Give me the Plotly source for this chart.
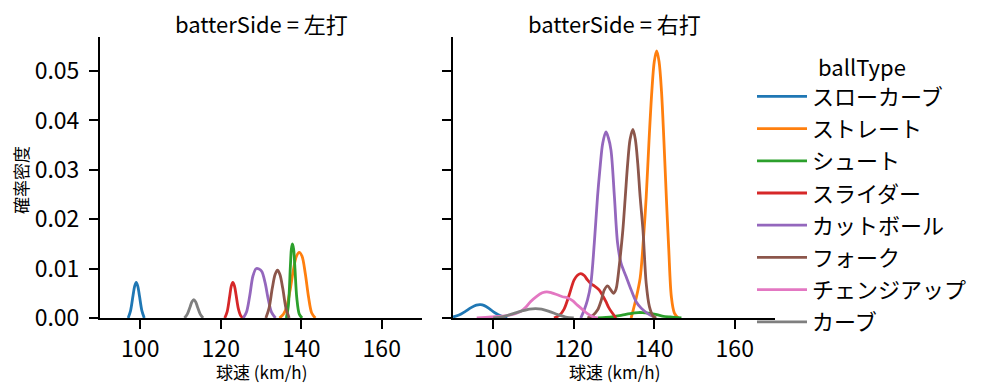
import plotly.graph_objects as go

# ---------------- data ----------------
ball_types = ["スローカーブ", "ストレート", "シュート", "スライダー",
              "カットボール", "フォーク", "チェンジアップ", "カーブ"]
colors = ["#1f77b4", "#ff7f0e", "#2ca02c", "#d62728",
          "#9467bd", "#8c564b", "#e377c2", "#7f7f7f"]
panels = ["左打", "右打"]

# 左打 (left-handed batters): speed (km/h) and density points of each KDE curve
left_slowcurve_x = [97.0, 97.6, 98.2, 98.6, 99.0, 99.4, 99.8, 100.4, 101.0]
left_slowcurve_y = [0, 0.0015, 0.0045, 0.0064, 0.0072, 0.0064, 0.0045, 0.0015, 0]
left_straight_x = [134.6, 135.6, 136.4, 137.2, 138.0, 138.8, 139.5, 140.2, 141.0, 141.8, 142.6, 143.5]
left_straight_y = [0, 0.0008, 0.0023, 0.0055, 0.0095, 0.0125, 0.0133, 0.0125, 0.0090, 0.0043, 0.0010, 0]
left_shoot_x = [136.3, 136.8, 137.3, 137.55, 137.8, 138.1, 138.4, 138.9, 139.5, 140.2]
left_shoot_y = [0, 0.0025, 0.0105, 0.0140, 0.0150, 0.0140, 0.0105, 0.0040, 0.0008, 0]
left_slider_x = [121.0, 121.6, 122.2, 122.6, 123.0, 123.4, 123.8, 124.4, 125.0, 125.6]
left_slider_y = [0, 0.0013, 0.0043, 0.0064, 0.0072, 0.0065, 0.0047, 0.0018, 0.0004, 0]
left_cutball_x = [125.6, 126.4, 127.2, 128.0, 128.8, 129.5, 130.2, 131.0, 131.8, 132.6, 133.6]
left_cutball_y = [0, 0.0012, 0.0045, 0.0085, 0.0100, 0.0099, 0.0094, 0.0072, 0.0038, 0.0012, 0]
left_fork_x = [131.2, 132.0, 132.8, 133.5, 134.1, 134.7, 135.4, 136.2, 137.0]
left_fork_y = [0, 0.0020, 0.0060, 0.0088, 0.0097, 0.0088, 0.0060, 0.0020, 0]
left_curve_x = [111.0, 111.7, 112.4, 112.85, 113.3, 113.75, 114.2, 114.9, 115.6]
left_curve_y = [0, 0.0008, 0.0023, 0.0033, 0.0037, 0.0033, 0.0023, 0.0008, 0]

# 右打 (right-handed batters)
right_slowcurve_x = [90.0, 91.5, 93.0, 94.5, 95.8, 96.8, 97.8, 99.0, 100.5, 102.0, 103.5]
right_slowcurve_y = [0.0002, 0.0006, 0.0013, 0.0021, 0.0026, 0.0027, 0.0025, 0.0019, 0.0010, 0.0004, 0.0001]
right_straight_x = [134.25, 135.5, 136.5, 137.3, 138.0, 138.7, 139.4, 140.0, 140.6, 141.2,
                    141.8, 142.4, 143.0, 143.6, 144.25, 145.0, 146.0]
right_straight_y = [0, 0.0040, 0.0081, 0.0158, 0.0245, 0.0359, 0.0459, 0.0519, 0.0541, 0.0519,
                    0.0459, 0.0359, 0.0245, 0.0140, 0.0043, 0.0010, 0]
right_shoot_x = [126.0, 128.0, 130.0, 132.0, 134.0, 136.0, 137.0, 138.5, 140.0, 142.0, 144.0, 146.75]
right_shoot_y = [0, 0.0001, 0.0003, 0.0006, 0.0009, 0.0011, 0.0011, 0.0010, 0.0008, 0.0004, 0.0002, 0]
right_slider_x = [115.1, 116.5, 117.6, 118.8, 120.1, 121.0, 121.75, 122.6, 123.4, 124.3,
                  125.1, 126.3, 127.2, 128.0, 128.7, 129.4, 130.5]
right_slider_y = [0, 0.0006, 0.0018, 0.0045, 0.0077, 0.0087, 0.0090, 0.0086, 0.0077, 0.0069,
                  0.0065, 0.0057, 0.0045, 0.0033, 0.0021, 0.0012, 0]
right_cutball_x = [121.75, 122.6, 123.4, 124.25, 125.1, 125.9, 126.6, 127.2, 128.0, 128.6,
                   129.25, 130.1, 130.9, 131.75, 133.0, 134.25, 135.5, 136.75, 138.4, 140.0]
right_cutball_y = [0, 0.0016, 0.0036, 0.0070, 0.0151, 0.0245, 0.0310, 0.0354, 0.0377, 0.0365,
                   0.0340, 0.0246, 0.0151, 0.0111, 0.0084, 0.0057, 0.0033, 0.0020, 0.0009, 0.0002]
right_fork_x = [123.4, 124.7, 125.9, 126.8, 127.6, 128.4, 129.2, 129.9, 130.5, 130.9, 131.5, 132.2,
                132.8, 133.4, 134.0, 134.7, 135.3, 135.9, 136.5, 137.2, 138.0, 138.8, 139.7, 140.5]
right_fork_y = [0, 0.0005, 0.0016, 0.0035, 0.0057, 0.0065, 0.0057, 0.0050, 0.0058, 0.0077, 0.0120, 0.0178,
                0.0245, 0.0313, 0.0362, 0.0382, 0.0362, 0.0313, 0.0245, 0.0178, 0.0070, 0.0023, 0.0004, 0]
right_changeup_x = [95.9, 99.5, 103.4, 105.5, 106.75, 108.0, 109.25, 110.8, 112.2, 113.3, 114.5,
                    115.9, 117.2, 118.4, 119.7, 120.9, 122.2, 123.4, 124.7, 126.0]
right_changeup_y = [0, 0.0002, 0.0005, 0.0009, 0.0013, 0.0021, 0.0033, 0.0044, 0.0051, 0.0053, 0.0051,
                    0.0047, 0.0043, 0.0041, 0.0035, 0.0026, 0.0017, 0.0009, 0.0003, 0]
right_curve_x = [100.0, 102.5, 105.0, 107.0, 109.0, 110.5, 112.0, 114.0, 116.0, 118.0, 120.0]
right_curve_y = [0, 0.0003, 0.0009, 0.0014, 0.0018, 0.0019, 0.0018, 0.0013, 0.0007, 0.0002, 0]

x_ticks = [100, 120, 140, 160]
y_ticks = [0.00, 0.01, 0.02, 0.03, 0.04, 0.05]
y_tick_labels = ["0.00", "0.01", "0.02", "0.03", "0.04", "0.05"]

curves = {
    "左打": {
        "スローカーブ": (left_slowcurve_x, left_slowcurve_y),
        "ストレート": (left_straight_x, left_straight_y),
        "シュート": (left_shoot_x, left_shoot_y),
        "スライダー": (left_slider_x, left_slider_y),
        "カットボール": (left_cutball_x, left_cutball_y),
        "フォーク": (left_fork_x, left_fork_y),
        "カーブ": (left_curve_x, left_curve_y),
    },
    "右打": {
        "スローカーブ": (right_slowcurve_x, right_slowcurve_y),
        "ストレート": (right_straight_x, right_straight_y),
        "シュート": (right_shoot_x, right_shoot_y),
        "スライダー": (right_slider_x, right_slider_y),
        "カットボール": (right_cutball_x, right_cutball_y),
        "フォーク": (right_fork_x, right_fork_y),
        "チェンジアップ": (right_changeup_x, right_changeup_y),
        "カーブ": (right_curve_x, right_curve_y),
    },
}

# ---------------- figure ----------------
FONT = "Noto Sans CJK JP"
OFF = 8                      # page body margin
W, H = 999 - 2 * OFF, 391 - 2 * OFF


def px(x):   # window pixel -> paper x
    return (x - OFF) / W


def py(y):   # window pixel (from top) -> paper y
    return (H - (y - OFF)) / H


fig = go.Figure()

for pi, side in enumerate(panels):
    xa = "x" if pi == 0 else "x2"
    ya = "y" if pi == 0 else "y2"
    for bt, col in zip(ball_types, colors):
        if bt not in curves[side]:
            continue
        xs, ys = curves[side][bt]
        fig.add_trace(go.Scatter(
            x=xs, y=ys, mode="lines", name=bt,
            line=dict(color=col, width=2.8, shape="spline", smoothing=0.9),
            xaxis=xa, yaxis=ya,
            legendgroup=bt, showlegend=(pi == 1),
        ))

ydom = [py(318), py(37)]
axis_common = dict(
    showline=True, linecolor="black", linewidth=2,
    ticks="outside", ticklen=9, tickwidth=2, tickcolor="black",
    showgrid=False, zeroline=False, automargin=False,
    tickfont=dict(family=FONT, size=23, color="black"),
)
fig.update_layout(
    width=W, height=H,
    margin=dict(l=0, r=0, t=0, b=0),
    paper_bgcolor="white", plot_bgcolor="white",
    font=dict(family=FONT, color="black"),
    xaxis=dict(domain=[px(100), px(422)], range=[90, 170], tickvals=x_ticks,
               anchor="y", **axis_common),
    xaxis2=dict(domain=[px(453), px(775)], range=[90, 170], tickvals=x_ticks,
                anchor="y2", **axis_common),
    yaxis=dict(domain=ydom, range=[0, 0.0569], tickvals=y_ticks, ticktext=y_tick_labels,
               anchor="x", ticklabelstandoff=5, **axis_common),
    yaxis2=dict(domain=ydom, range=[0, 0.0569], tickvals=y_ticks, showticklabels=False,
                anchor="x2", matches="y", **axis_common),
    legend=dict(
        x=px(752), y=py(47), xanchor="left", yanchor="top",
        font=dict(family=FONT, size=22, color="black"),
        title=dict(text="ballType", side="top center",
                   font=dict(family=FONT, size=22, color="black")),
        itemwidth=50, tracegroupgap=0.6, bgcolor="rgba(0,0,0,0)",
    ),
    annotations=[
        dict(text="batterSide = 左打", x=px(261), y=py(23), xref="paper", yref="paper",
             showarrow=False, xanchor="center", yanchor="middle",
             font=dict(family=FONT, size=22, color="black")),
        dict(text="batterSide = 右打", x=px(614), y=py(23), xref="paper", yref="paper",
             showarrow=False, xanchor="center", yanchor="middle",
             font=dict(family=FONT, size=22, color="black")),
        dict(text="球速 (km/h)", x=px(261), y=py(371), xref="paper", yref="paper",
             showarrow=False, xanchor="center", yanchor="middle",
             font=dict(family=FONT, size=17, color="black")),
        dict(text="球速 (km/h)", x=px(614), y=py(371), xref="paper", yref="paper",
             showarrow=False, xanchor="center", yanchor="middle",
             font=dict(family=FONT, size=17, color="black")),
        dict(text="確率密度", x=px(20), y=py(180), xref="paper", yref="paper",
             showarrow=False, xanchor="center", yanchor="middle", textangle=-90,
             font=dict(family=FONT, size=17, color="black")),
    ],
)

fig.write_html("out.html")
